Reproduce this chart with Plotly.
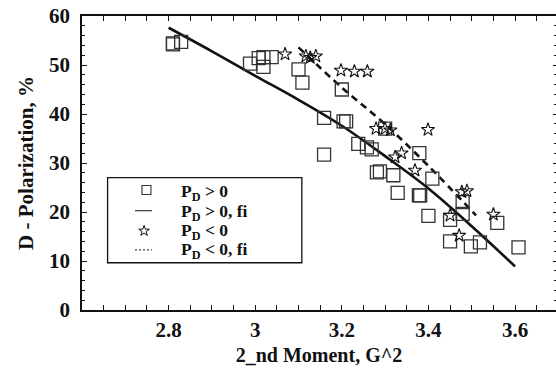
import plotly.graph_objects as go

# Measured points, P_D > 0
pos_x = [2.81, 2.81, 2.829, 2.988, 3.008, 3.019, 3.019, 3.038, 3.100, 3.109,
         3.200, 3.159, 3.204, 3.210, 3.159, 3.238, 3.258, 3.269, 3.281, 3.288,
         3.319, 3.300, 3.379, 3.409, 3.329, 3.378, 3.381, 3.400, 3.450, 3.479,
         3.479, 3.450, 3.498, 3.519, 3.559, 3.608]
pos_y = [54.4, 54.2, 54.7, 50.3, 51.4, 49.6, 51.6, 51.6, 49.1, 46.4,
         45.0, 39.2, 38.5, 38.5, 31.7, 33.9, 33.2, 32.8, 28.1, 28.3,
         27.5, 37.0, 32.0, 26.8, 23.9, 23.4, 23.4, 19.2, 18.4, 22.0,
         19.6, 14.0, 13.0, 13.8, 17.8, 12.8]

# Measured points, P_D < 0
neg_x = [3.069, 3.117, 3.127, 3.140, 3.198, 3.229, 3.259, 3.279, 3.300, 3.312,
         3.399, 3.338, 3.323, 3.369, 3.477, 3.489, 3.450, 3.550, 3.471]
neg_y = [52.2, 51.8, 51.5, 51.8, 48.9, 48.7, 48.7, 37.0, 37.0, 36.7,
         36.8, 32.0, 31.2, 28.5, 24.1, 24.3, 19.3, 19.5, 15.2]

# Fitted curves
fit_pos_x = [2.8, 2.9, 3.0, 3.1, 3.2, 3.3, 3.4, 3.5, 3.6]
fit_pos_y = [57.6, 52.8, 47.8, 42.9, 37.6, 31.4, 24.8, 17.1, 8.9]
fit_neg_x = [3.1, 3.2, 3.3, 3.4, 3.51]
fit_neg_y = [53.6, 45.4, 37.9, 29.4, 19.3]

x_range = [2.6, 3.6946]
y_range = [0, 60]
x_ticks = [2.8, 3.0, 3.2, 3.4, 3.6]
x_tick_labels = ["2.8", "3", "3.2", "3.4", "3.6"]
y_ticks = [0, 10, 20, 30, 40, 50, 60]

legend_labels = ["P<sub>D</sub> &gt; 0", "P<sub>D</sub> &gt; 0, fi",
                 "P<sub>D</sub> &lt; 0", "P<sub>D</sub> &lt; 0, fi"]

FONT = "Liberation Serif, Times New Roman, serif"
INK = "#111111"

# Legend layout in plot-fraction units
LEG_BOX = dict(x0=0.054, x1=0.4638, y0=0.1607, y1=0.45)
LEG_TEXT_X = 0.2046
LEG_ROW_Y = [0.398, 0.3316, 0.267, 0.2024]
LEG_SYM_X = 0.131
LEG_LINE_X = [0.1118, 0.1477]

fig = go.Figure()

fig.add_trace(go.Scatter(
    x=fit_pos_x, y=fit_pos_y, mode="lines", line_shape="spline",
    line=dict(color=INK, width=2.6), showlegend=False, hoverinfo="skip"))
fig.add_trace(go.Scatter(
    x=fit_neg_x, y=fit_neg_y, mode="lines", line_shape="spline",
    line=dict(color=INK, width=2.6, dash="7px,5px"), showlegend=False,
    hoverinfo="skip"))
fig.add_trace(go.Scatter(
    x=pos_x, y=pos_y, mode="markers",
    marker=dict(symbol="square-open", size=13, color="#333333",
                line=dict(width=1.3)), showlegend=False))
fig.add_trace(go.Scatter(
    x=neg_x, y=neg_y, mode="markers",
    marker=dict(symbol="star-open", size=10, color=INK,
                line=dict(width=1.1)), showlegend=False))

# Right-hand ticks without a frame line
fig.add_trace(go.Scatter(x=[None], y=[None], yaxis="y2", showlegend=False))

# Legend key samples on a hidden unit overlay
fig.add_trace(go.Scatter(
    x=[LEG_SYM_X + 0.005], y=[LEG_ROW_Y[0] + 0.01], xaxis="x3", yaxis="y3",
    mode="markers", showlegend=False, hoverinfo="skip",
    marker=dict(symbol="square-open", size=9, color="#333333",
                line=dict(width=1.1))))
fig.add_trace(go.Scatter(
    x=LEG_LINE_X, y=[LEG_ROW_Y[1] + 0.006] * 2, xaxis="x3", yaxis="y3",
    mode="lines", showlegend=False, hoverinfo="skip",
    line=dict(color=INK, width=1)))
fig.add_trace(go.Scatter(
    x=[LEG_SYM_X], y=[LEG_ROW_Y[2] + 0.002], xaxis="x3", yaxis="y3",
    mode="markers", showlegend=False, hoverinfo="skip",
    marker=dict(symbol="star-open", size=8, color=INK, line=dict(width=1))))
fig.add_trace(go.Scatter(
    x=LEG_LINE_X, y=[LEG_ROW_Y[3] + 0.002] * 2, xaxis="x3", yaxis="y3",
    mode="lines", showlegend=False, hoverinfo="skip",
    line=dict(color=INK, width=1, dash="2px,2px")))

axis_common = dict(
    showgrid=False, zeroline=False, ticks="inside", ticklen=5, tickwidth=1.2,
    tickcolor=INK, linecolor=INK, linewidth=1.6,
    tickfont=dict(family=FONT, size=21, color=INK, weight="bold"),
)

annotations = [
    dict(text=lab, x=LEG_TEXT_X, y=yy, xref="paper", yref="paper",
         xanchor="left", yanchor="middle", showarrow=False,
         font=dict(family=FONT, size=17.5, color=INK, weight="bold"))
    for lab, yy in zip(legend_labels, LEG_ROW_Y)
]

fig.update_layout(
    width=556, height=370,
    margin=dict(l=82, r=0, t=16, b=60),
    paper_bgcolor="white", plot_bgcolor="white",
    font=dict(family=FONT, color=INK),
    showlegend=False,
    xaxis=dict(
        **axis_common, range=x_range, tickvals=x_ticks, ticktext=x_tick_labels,
        showline=True, mirror="allticks",
        minor=dict(dtick=0.05, ticks="inside", ticklen=3, tickwidth=1,
                   tickcolor=INK),
        ticklabelstandoff=0,
        title=dict(text="2_nd Moment, G^2",
                   font=dict(family=FONT, size=20, color=INK, weight="bold"),
                   standoff=7),
    ),
    yaxis=dict(
        **axis_common, range=y_range, tickvals=y_ticks, showline=True,
        mirror=False,
        minor=dict(dtick=2, ticks="inside", ticklen=3, tickwidth=1,
                   tickcolor=INK),
        ticklabelstandoff=6,
        title=dict(text="D - Polarization, %",
                   font=dict(family=FONT, size=21, color=INK, weight="bold"),
                   standoff=10),
    ),
    yaxis2=dict(
        overlaying="y", side="right", anchor="x", range=y_range,
        tickvals=y_ticks, showticklabels=False, showline=False,
        showgrid=False, zeroline=False, ticks="inside", ticklen=3,
        tickwidth=1.2, tickcolor=INK,
        minor=dict(dtick=2, ticks="inside", ticklen=2, tickwidth=1,
                   tickcolor=INK),
    ),
    xaxis3=dict(overlaying="x", range=[0, 1], visible=False),
    yaxis3=dict(overlaying="y", range=[0, 1], visible=False, anchor="x3"),
    annotations=annotations,
    shapes=[dict(
        type="rect", xref="paper", yref="paper", **LEG_BOX,
        line=dict(color=INK, width=1.3), fillcolor="rgba(0,0,0,0)",
    )],
)

fig.write_html("out.html")
